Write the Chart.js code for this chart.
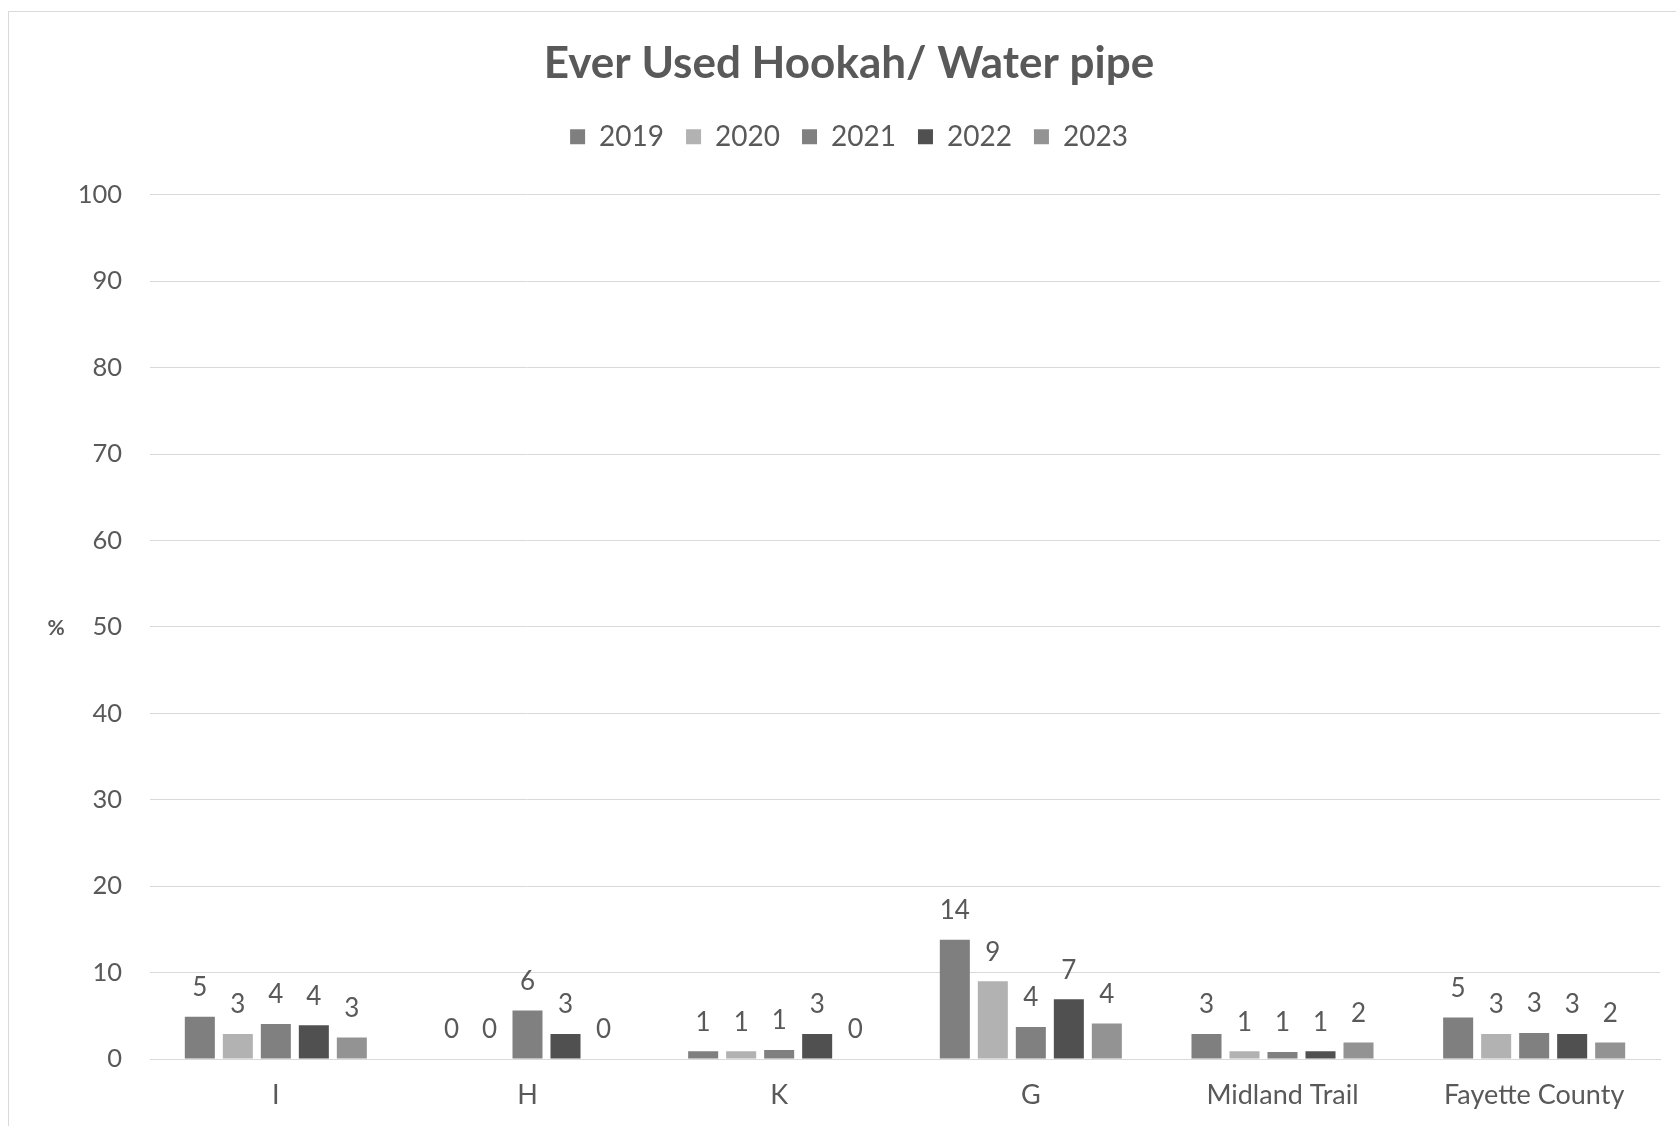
<!DOCTYPE html>
<html>
<head>
<meta charset="utf-8">
<script src="https://cdn.jsdelivr.net/npm/chart.js@4/dist/chart.umd.min.js"></script>
<style>
  body { margin: 0; background: #fff; }
  #wrap { position: relative; width: 1676px; height: 1126px; overflow: hidden; }
  #frame { position: absolute; left: 8px; top: 11px; width: 1700px; height: 1200px; border: 1px solid #d9d9d9; }
  #c { position: absolute; left: 0; top: 0; }
</style>
</head>
<body>
<div id="wrap">
  <div id="frame"></div>
  <canvas id="c" width="1676" height="1126"></canvas>
</div>
<script>
const categories = [`I`, `H`, `K`, `G`, `Midland Trail`, `Fayette County`];
const years = [`2019`, `2020`, `2021`, `2022`, `2023`];
const colors = [`#7f7f7f`, `#b2b2b2`, `#808080`, `#505050`, `#939393`];

const v2019 = [4.9, 0, 0.9, 13.8, 2.9, 4.8];
const v2020 = [2.9, 0, 0.9, 9.0, 0.9, 2.9];
const v2021 = [4.05, 5.6, 1.05, 3.7, 0.8, 3.0];
const v2022 = [3.9, 2.9, 2.9, 6.9, 0.9, 2.9];
const v2023 = [2.5, 0, 0, 4.1, 1.9, 1.9];
const yTicks = [0, 10, 20, 30, 40, 50, 60, 70, 80, 90, 100];

const series = [v2019, v2020, v2021, v2022, v2023];
const font = `Lato, "Liberation Sans", sans-serif`;
const grey = `#595959`;

// values over the bars, and the bare "%" axis label
const valueLabels = {
  id: `valueLabels`,
  beforeLayout(chart) {
    const lg = chart.legend;
    if (lg && !lg._padded) {
      const fit = lg.fit;
      lg.fit = function() { fit.call(this); this.height += 34; };
      lg._padded = true;
    }
  },
  afterDatasetsDraw(chart) {
    const ctx = chart.ctx;
    ctx.save();
    ctx.fillStyle = grey;
    ctx.font = `26px ${font}`;
    ctx.textAlign = `center`;
    ctx.textBaseline = `bottom`;
    chart.data.datasets.forEach((ds, i) => {
      chart.getDatasetMeta(i).data.forEach((bar, j) => {
        ctx.fillText(Math.round(ds.data[j]), bar.x, bar.y - 16);
      });
    });
    const area = chart.chartArea;
    ctx.font = `bold 21px ${font}`;
    ctx.textBaseline = `middle`;
    ctx.fillText(`%`, 56, (area.top + area.bottom) / 2 + 1);
    ctx.restore();
  }
};

new Chart(document.getElementById(`c`).getContext(`2d`), {
  type: `bar`,
  data: {
    labels: categories,
    datasets: series.map((data, i) => ({
      label: years[i],
      data: data,
      backgroundColor: colors[i],
      categoryPercentage: 0.755,
      barPercentage: 0.79
    }))
  },
  options: {
    responsive: false,
    animation: false,
    layout: { padding: { left: 38, right: 16, top: 0, bottom: 0 } },
    plugins: {
      title: {
        display: true,
        text: `Ever Used Hookah/ Water pipe`,
        color: grey,
        font: { family: font, size: 44, weight: `bold` },
        padding: { top: 37, bottom: 11 }
      },
      legend: {
        position: `top`,
        labels: {
          color: grey,
          font: { family: font, size: 28 },
          boxWidth: 15,
          boxHeight: 15,
          padding: 22
        }
      },
      tooltip: { enabled: false }
    },
    scales: {
      x: {
        grid: { display: false, drawTicks: false },
        border: { color: `#d9d9d9` },
        ticks: { color: grey, font: { family: font, size: 27 }, padding: 20 },
        afterFit(scale) { scale.height = 67; }
      },
      y: {
        min: 0,
        max: 100,
        afterBuildTicks(scale) { scale.ticks = yTicks.map(v => ({ value: v })); },
        grid: { color: `#d9d9d9`, drawTicks: false },
        border: { display: false },
        ticks: { color: grey, font: { family: font, size: 25.5 }, padding: 28 },
        afterFit(scale) { scale.width = 112; }
      }
    }
  },
  plugins: [valueLabels]
});
</script>
</body>
</html>
